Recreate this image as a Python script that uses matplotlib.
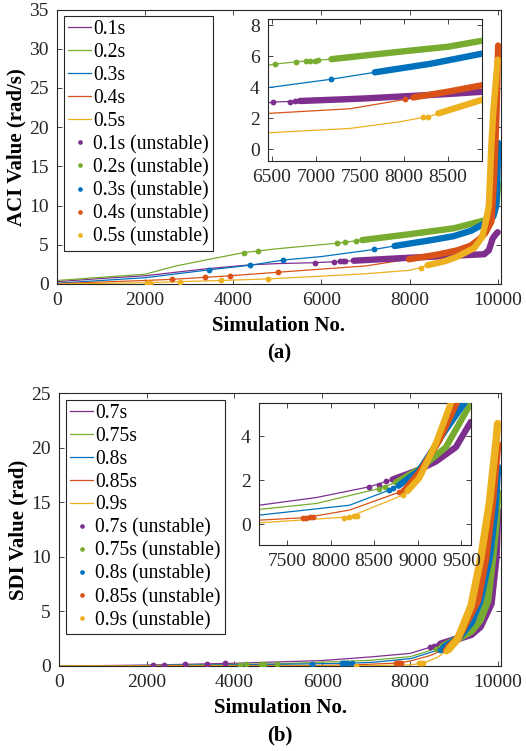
import numpy as np
import matplotlib.pyplot as plt

plt.rcParams['font.family'] = ['Liberation Serif', 'DejaVu Serif']

W, H = 526, 751
colors = ['#7E2F8E', '#77AC30', '#0072BD', '#D95319', '#EDB120']
dark = '#262626'

# ---------------- (a) ACI ----------------
aci_labels = ['0.1s', '0.2s', '0.3s', '0.4s', '0.5s']
aci_x = [
    [0, 1000, 2000, 3400, 4400, 5000, 5860, 6734, 7000, 8000, 9000, 9695, 9800, 9886, 9950, 10000],
    [0, 1000, 2000, 2700, 3500, 4235, 5000, 6360, 6925, 8000, 9000, 9695, 9900, 9980, 10010],
    [0, 1000, 2000, 3440, 4390, 5130, 6000, 7190, 7660, 8500, 9000, 9400, 9695, 9900, 9970, 9990, 10010],
    [0, 1000, 2000, 2620, 3364, 3932, 5015, 6000, 7000, 7985, 8635, 9090, 9393, 9600, 9720, 9860, 9920, 9975, 10010],
    [0, 1000, 2040, 2780, 3730, 4780, 6000, 7000, 8000, 8250, 8408, 8800, 9090, 9468, 9650, 9750, 9800, 9850, 9900, 10000],
]
aci_y = [
    [0.3, 0.7, 1.05, 1.95, 2.45, 2.6, 2.72, 2.97, 3.05, 3.35, 3.6, 3.8, 4.3, 5.8, 6.3, 6.6],
    [0.45, 0.85, 1.25, 2.3, 3.2, 4.0, 4.5, 5.2, 5.6, 6.35, 7.1, 8.1, 9.0, 10.5, 12.8],
    [0.1, 0.45, 0.8, 1.8, 2.4, 3.05, 3.5, 4.4, 4.85, 5.6, 6.1, 6.8, 7.7, 8.6, 10.0, 13.0, 18.0],
    [0.05, 0.25, 0.45, 0.6, 0.85, 1.05, 1.5, 1.9, 2.3, 3.15, 3.75, 4.3, 4.9, 5.8, 6.5, 8.0, 13.7, 22.0, 30.4],
    [0.0, 0.08, 0.17, 0.3, 0.45, 0.65, 1.0, 1.3, 1.75, 2.08, 2.4, 2.9, 3.5, 4.6, 6.0, 8.5, 10.0, 17.0, 22.0, 28.6],
]
aci_band_from = [7, 8, 8, 9, 10]
aci_dot_x = [
    [5864, 6296, 6430, 6480, 6545],
    [4235, 4550, 6360, 6545, 6790],
    [3440, 4390, 5130, 7190],
    [2620, 3364, 3932, 5015],
    [2040, 2075, 2110, 2780, 3727, 4780, 8250],
]
aci_dot_y = [
    [2.72, 2.86, 2.9, 2.9, 2.92],
    [4.0, 4.2, 5.2, 5.3, 5.5],
    [1.8, 2.4, 3.05, 4.4],
    [0.6, 0.85, 1.05, 1.5],
    [0.17, 0.17, 0.18, 0.3, 0.45, 0.64, 2.08],
]

# inset of (a)
aci_in_x = [
    [6458, 6515, 6818, 7500, 8000, 8500, 8900],
    [6458, 6534, 6780, 7178, 7955, 8500, 8900],
    [6458, 7170, 7670, 8300, 8900],
    [6458, 7386, 8011, 8106, 8500, 8900],
    [6458, 7386, 7955, 8216, 8273, 8390, 8900],
]
aci_in_y = [
    [2.98, 3.03, 3.1, 3.25, 3.4, 3.55, 3.7],
    [5.4, 5.48, 5.63, 5.8, 6.28, 6.6, 7.0],
    [3.96, 4.5, 4.95, 5.5, 6.17],
    [2.3, 2.6, 3.2, 3.33, 3.7, 4.13],
    [1.05, 1.33, 1.76, 2.04, 2.07, 2.3, 3.2],
]
aci_in_band_from = [2, 3, 2, 3, 5]
aci_in_dot_x = [[6515, 6705, 6761], [6534, 6780, 6890, 6940, 6990, 7030], [7170], [8011], [8216, 8273]]
aci_in_dot_y = [[3.03, 3.06, 3.08], [5.48, 5.63, 5.66, 5.68, 5.7, 5.72], [4.5], [3.2], [2.04, 2.07]]

# ---------------- (b) SDI ----------------
sdi_labels = ['0.7s', '0.75s', '0.8s', '0.85s', '0.9s']
sdi_x = [
    [0, 2000, 4000, 6000, 7100, 8000, 8480, 8700, 9090, 9400, 9600, 9848, 9962, 10000],
    [0, 2000, 4000, 5000, 6000, 7100, 8000, 8480, 8750, 9090, 9400, 9600, 9774, 9886, 9960, 10000],
    [0, 4000, 5800, 6600, 7200, 8020, 8630, 8780, 9090, 9400, 9600, 9810, 9930, 10000],
    [0, 6000, 7000, 7720, 8000, 8478, 8880, 9090, 9545, 9733, 9880, 9970, 10000],
    [0, 6000, 6780, 8000, 8290, 8630, 8880, 9090, 9392, 9620, 9810, 9960, 10000],
]
sdi_y = [
    [0, 0.08, 0.25, 0.5, 0.83, 1.15, 1.74, 2.0, 2.5, 2.9, 3.6, 5.7, 10.0, 14.2],
    [0, 0.04, 0.15, 0.2, 0.35, 0.52, 0.85, 1.44, 1.8, 2.5, 3.2, 4.2, 6.0, 10.0, 13.0, 15.9],
    [0, 0.1, 0.2, 0.25, 0.35, 0.68, 1.44, 1.7, 2.5, 4.0, 6.0, 10.0, 14.0, 18.2],
    [0, 0.05, 0.15, 0.27, 0.45, 0.98, 1.7, 2.5, 6.0, 10.0, 15.0, 19.0, 20.3],
    [0, 0.0, 0.02, 0.1, 0.25, 0.8, 1.5, 2.5, 5.5, 10.0, 14.9, 20.5, 22.2],
]
sdi_band_from = [7, 8, 7, 6, 6]
sdi_dot_x = [
    [2140, 2384, 2879, 3374, 3778, 8450, 8560, 8640],
    [4120, 4273, 4615, 4670, 4973, 8600, 8680],
    [5773, 6460, 6500, 6575, 6689, 8680, 8730],
    [7680, 7720, 7760, 7800, 8800, 8840],
    [6778, 8200, 8250, 8290, 8830],
]
sdi_dot_y = [
    [0.1, 0.12, 0.16, 0.2, 0.25, 1.7, 1.8, 1.9],
    [0.13, 0.14, 0.17, 0.17, 0.2, 1.6, 1.68],
    [0.2, 0.24, 0.25, 0.25, 0.26, 1.5, 1.6],
    [0.26, 0.27, 0.28, 0.3, 1.5, 1.6],
    [0.02, 0.24, 0.25, 0.26, 1.35],
]

# inset of (b)
sdi_in_x = [
    [7180, 7836, 8445, 8711, 9017, 9207, 9436, 9607],
    [7180, 7836, 8559, 8750, 9017, 9322, 9607],
    [7180, 8217, 8674, 8780, 9017, 9322, 9531],
    [7180, 7722, 8217, 8750, 8860, 9017, 9245, 9443],
    [7180, 8217, 8826, 8880, 9017, 9207, 9379],
]
sdi_in_y = [
    [0.86, 1.21, 1.7, 2.03, 2.48, 2.85, 3.5, 4.65],
    [0.67, 0.94, 1.62, 1.9, 2.5, 3.5, 5.5],
    [0.41, 0.86, 1.55, 1.75, 2.45, 4.3, 5.5],
    [0.18, 0.3, 0.64, 1.4, 1.6, 2.35, 3.8, 5.5],
    [0.06, 0.33, 1.32, 1.5, 2.1, 3.67, 5.5],
]
sdi_in_band_from = [3, 3, 3, 4, 3]
sdi_in_dot_x = [[8445, 8560, 8640], [8559, 8620], [8674, 8720], [7680, 7722, 7760, 7800, 8780, 8830], [8150, 8217, 8270, 8300, 8826]]
sdi_in_dot_y = [[1.7, 1.8, 1.95], [1.62, 1.7], [1.55, 1.65], [0.29, 0.3, 0.31, 0.32, 1.45, 1.55], [0.3, 0.33, 0.35, 0.36, 1.32]]


def px_axes(fig, left, top, right, bottom):
    return fig.add_axes([left / W, 1 - bottom / H, (right - left) / W, (bottom - top) / H])


def style(ax, fs):
    for s in ax.spines.values():
        s.set_color(dark)
        s.set_linewidth(0.8)
    ax.tick_params(direction='in', top=True, right=True, length=3.5, width=0.6,
                   colors=dark, labelsize=fs, pad=6)


def draw(ax, xs, ys, band_from, dxs, dys, band_lw=4.6, labels=None):
    lines, dots = [], []
    for i in range(5):
        l, = ax.plot(xs[i], ys[i], color=colors[i], lw=0.9, zorder=2)
        lines.append(l)
    for i in range(5):
        b = band_from[i]
        ax.plot(xs[i][b:], ys[i][b:], color=colors[i], lw=band_lw,
                solid_capstyle='round', solid_joinstyle='round', zorder=3 + i)
        d, = ax.plot(dxs[i], dys[i], 'o', color=colors[i], ms=4.2, mew=0, zorder=3 + i)
        dots.append(d)
    if labels:
        for l, lab in zip(lines, labels):
            l.set_label(lab)
        for d, lab in zip(dots, labels):
            d.set_label(lab + ' (unstable)')
    return lines + dots


def legend(ax, handles):
    leg = ax.legend(handles=handles, loc='upper left', fontsize=14.1, labelspacing=0.2,
                    handlelength=1.2, handletextpad=0.1, borderpad=0.2, borderaxespad=0.35,
                    fancybox=False, framealpha=1, edgecolor=dark, markerscale=0.8)
    leg.get_frame().set_linewidth(0.8)
    return leg


fig = plt.figure(figsize=(W / 100, H / 100), dpi=100)

# ---- (a)
ax1 = px_axes(fig, 57, 9.5, 501, 284)
h = draw(ax1, aci_x, aci_y, aci_band_from, aci_dot_x, aci_dot_y, labels=aci_labels)
ax1.set_xlim(0, 10075)
ax1.set_ylim(0, 35)
ax1.set_xticks(np.arange(0, 10001, 2000))
ax1.set_yticks(np.arange(0, 36, 5))
style(ax1, 14)
ax1.set_xlabel('Simulation No.', fontsize=15, fontweight='bold', labelpad=5)
ax1.set_ylabel('ACI Value (rad/s)', fontsize=15, fontweight='bold', labelpad=2)
legend(ax1, h)

ax1i = px_axes(fig, 268, 19.3, 482, 161)
draw(ax1i, aci_in_x, aci_in_y, aci_in_band_from, aci_in_dot_x, aci_in_dot_y)
ax1i.set_xlim(6458, 8886)
ax1i.set_ylim(-0.77, 8.37)
ax1i.set_xticks(np.arange(6500, 8501, 500))
ax1i.set_yticks(np.arange(0, 9, 2))
style(ax1i, 14)

fig.text((57 + 501) / 2 / W, 1 - 353 / H, '(a)', ha='center', va='center',
         fontsize=15, fontweight='bold')

# ---- (b)
ax2 = px_axes(fig, 59, 393, 501, 666)
h = draw(ax2, sdi_x, sdi_y, sdi_band_from, sdi_dot_x, sdi_dot_y, band_lw=5.4, labels=sdi_labels)
ax2.set_xlim(0, 10076)
ax2.set_ylim(0, 25)
ax2.set_xticks(np.arange(0, 10001, 2000))
ax2.set_yticks(np.arange(0, 26, 5))
style(ax2, 14)
ax2.set_xlabel('Simulation No.', fontsize=15, fontweight='bold', labelpad=5)
ax2.set_ylabel('SDI Value (rad)', fontsize=15, fontweight='bold', labelpad=2)
legend(ax2, h)

ax2i = px_axes(fig, 259, 403.3, 471, 545)
draw(ax2i, sdi_in_x, sdi_in_y, sdi_in_band_from, sdi_in_dot_x, sdi_in_dot_y)
ax2i.set_xlim(7180, 9610)
ax2i.set_ylim(-0.95, 5.5)
ax2i.set_xticks(np.arange(7500, 9501, 500))
ax2i.set_yticks([0, 2, 4])
style(ax2i, 14)

fig.text((59 + 501) / 2 / W, 1 - 735 / H, '(b)', ha='center', va='center',
         fontsize=15, fontweight='bold')

fig.savefig('out.png', dpi=100)
